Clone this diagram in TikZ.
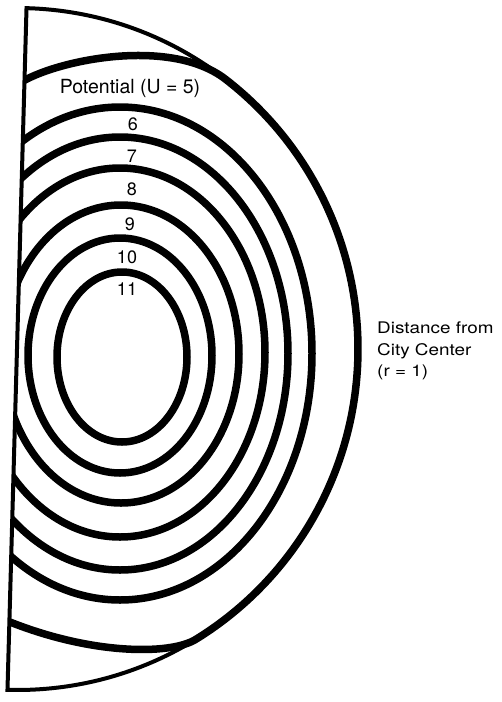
\documentclass[tikz,border=0pt]{standalone}
\usepackage{fontspec}
\setmainfont{TeX Gyre Heros}
\begin{document}
\begin{tikzpicture}[x=1pt,y=-1pt,
  contour/.style={line width=7.5pt, line cap=round, line join=round},
  rim/.style={line width=4pt},
  numlabel/.style={font=\fontsize{18}{20}\selectfont, anchor=base, inner sep=0pt},
  potlabel/.style={font=\fontsize{19.5}{22}\selectfont, anchor=base, inner sep=0pt},
  sidelabel/.style={font=\fontsize{16}{20}\selectfont, anchor=base west, inner sep=0pt, xscale=1.18}]
\fill[white] (0,0) rectangle (502,702);
\useasboundingbox (0,0) rectangle (502,702);
\coordinate (C) at (17,349);
\coordinate (T) at ([shift={(-88.4:341)}]C);
\coordinate (B) at ([shift={(91.6:341)}]C);
\coordinate (M1) at ([shift={(-52.3:341)}]C);
\begin{scope}
  \clip (T) -- (B) -- (502,702) -- (502,0) -- cycle;
  % U = 5
  \draw[contour] (18,84) .. controls (55,60) and (170.2,36.4) .. (M1)
     arc[start angle=-52.3, end angle=58.4, radius=341]
     .. controls (170,655.2) and (90,655) .. (5,620);
  % U = 6 ... 11
  \draw[contour] (120,353.5) ellipse [x radius=192, y radius=246.5];
  \draw[contour] (120,353.5) ellipse [x radius=168, y radius=216.5];
  \draw[contour] (120,352.5) ellipse [x radius=145, y radius=184.5];
  \draw[contour] (121,354) ellipse [x radius=118, y radius=149];
  \draw[contour] (120,355.5) ellipse [x radius=92, y radius=117.5];
  \draw[contour] (122,357) ellipse [x radius=65, y radius=85];
\end{scope}
% outer boundary: distance r = 1
\draw[rim] (T) arc[start angle=-88.4, end angle=91.6, radius=341] -- cycle;
% labels
\node[potlabel] (pot) at (130,93) {Potential (U = 5)};
\node[numlabel] (n6) at (133,130) {6};
\node[numlabel] (n7) at (132,162) {7};
\node[numlabel] (n8) at (132,195) {8};
\node[numlabel] (n9) at (130,230) {9};
\node[numlabel] (n10) at (127,263) {10};
\node[numlabel] (n11) at (127,295) {11};
\node[sidelabel] (d1) at (377,333) {Distance from};
\node[sidelabel] (d2) at (377,355) {City Center};
\node[sidelabel] (d3) at (377,376.5) {(r = 1)};
\end{tikzpicture}
\end{document}
